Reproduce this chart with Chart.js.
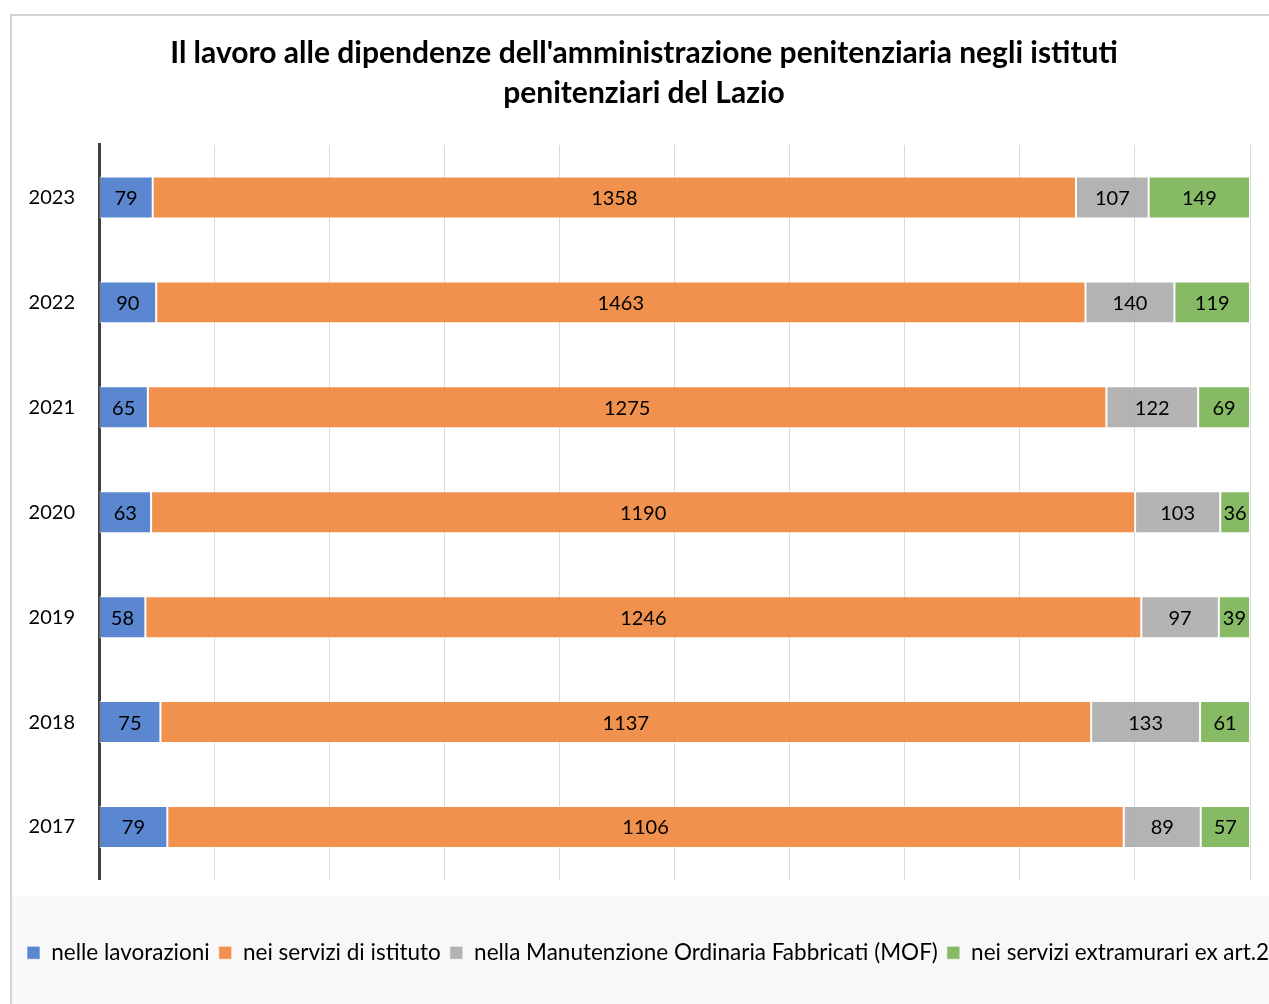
<!DOCTYPE html>
<html>
<head>
<meta charset="utf-8">
<script src="https://cdn.jsdelivr.net/npm/chart.js@4.4.1/dist/chart.umd.min.js"></script>
<style>
  html, body { margin: 0; padding: 0; background: #fff; overflow: hidden; }
  #wrap { position: absolute; left: 10px; top: 14px; width: 1290px; height: 990px;
          border-top: 2px solid #d4d4d4; border-left: 2px solid #d4d4d4; }
  canvas { display: block; }
</style>
</head>
<body>
<div id="wrap"><canvas id="c" width="1290" height="990"></canvas></div>
<script>
const years = ['2023', '2022', '2021', '2020', '2019', '2018', '2017'];
const lavorazioni = [79, 90, 65, 63, 58, 75, 79];
const serviziIstituto = [1358, 1463, 1275, 1190, 1246, 1137, 1106];
const mof = [107, 140, 122, 103, 97, 133, 89];
const extramurari = [149, 119, 69, 36, 39, 61, 57];
const seriesNames = ['nelle lavorazioni', 'nei servizi di istituto',
  'nella Manutenzione Ordinaria Fabbricati (MOF)', 'nei servizi extramurari ex art.21'];
const titleLines = ["Il lavoro alle dipendenze dell'amministrazione penitenziaria negli istituti",
  'penitenziari del Lazio'];

const raw = [lavorazioni, serviziIstituto, mof, extramurari];
const totals = years.map((_, i) => raw.reduce((s, arr) => s + arr[i], 0));
const pct = raw.map(arr => arr.map((v, i) => v / totals[i] * 100));

const fills = ['rgba(73,121,203,0.9)', 'rgba(238,133,59,0.9)', 'rgba(171,171,171,0.9)', 'rgba(121,178,84,0.9)'];
const legendFills = ['#5B86D0', '#F0914F', '#B3B3B3', '#86BA65'];
const FONT = 'Lato, "Open Sans", sans-serif';

const valueLabels = {
  id: 'valueLabels',
  afterDatasetsDraw(chart) {
    const ctx = chart.ctx;
    ctx.save();
    ctx.font = '20px ' + FONT;
    ctx.fillStyle = '#000';
    ctx.textAlign = 'center';
    ctx.textBaseline = 'middle';
    chart.data.datasets.forEach((ds, di) => {
      chart.getDatasetMeta(di).data.forEach((el, i) => {
        const cx = (el.x + el.base) / 2;
        ctx.fillText(String(raw[di][i]), cx, el.y + 1);
      });
    });
    ctx.restore();
  }
};

const legendBg = {
  id: 'legendBg',
  beforeDraw(chart) {
    const ctx = chart.ctx;
    ctx.save();
    ctx.fillStyle = '#f8f8f8';
    const top = chart.chartArea.bottom + 17;
    ctx.fillRect(0, top, chart.width, chart.height - top);
    ctx.restore();
  }
};

// the legend runs past the visible frame on one row, and the title is centred on the frame
const frameFix = {
  id: 'frameFix',
  afterInit(chart) {
    const L = chart.legend;
    if (L && !L._wide) {
      const orig = L.update;
      L.update = function (mw, mh, m) { return orig.call(this, mw + 120, mh, m); };
      L._wide = true;
    }
  },
  afterLayout(chart) {
    if (chart.titleBlock) { chart.titleBlock.right = 1264; chart.titleBlock.width = 1264 - chart.titleBlock.left; }
    if (chart.legend) {
      chart.legend.left += 6;
      chart.legend.right += 160;
      chart.legend.width = chart.legend.right - chart.legend.left;
    }
  }
};

new Chart(document.getElementById('c'), {
  type: 'bar',
  data: {
    labels: years,
    datasets: pct.map((d, i) => ({
      label: seriesNames[i],
      data: d,
      backgroundColor: fills[i],
      borderColor: 'rgba(255,255,255,0.7)',
      borderWidth: 1,
      borderSkipped: false,
      barPercentage: 0.4,
      categoryPercentage: 1.0
    }))
  },
  options: {
    indexAxis: 'y',
    responsive: false,
    animation: false,
    devicePixelRatio: 1,
    layout: { padding: { left: 0, right: 52, top: 0, bottom: 32 } },
    scales: {
      x: {
        stacked: true, min: 0, max: 100,
        ticks: { display: false, stepSize: 10 },
        border: { display: false },
        grid: { color: '#d9d9d9', lineWidth: 1, drawTicks: false },
        afterFit(scale) { scale.height = 53; }
      },
      y: {
        stacked: true,
        ticks: { color: '#000', font: { family: FONT, size: 20 }, padding: 24 },
        border: { display: true, color: '#404040', width: 3 },
        grid: { display: false, drawTicks: false },
        afterFit(scale) { scale.width = 87; }
      }
    },
    plugins: {
      title: {
        display: true,
        text: titleLines,
        color: '#000',
        font: { family: FONT, size: 30, weight: 'bold', lineHeight: 1.333 },
        padding: { top: 17, bottom: 32 }
      },
      legend: {
        position: 'bottom',
        align: 'start',
        labels: {
          color: '#000',
          font: { family: FONT, size: 22.5 },
          boxWidth: 13, boxHeight: 13,
          padding: 9,
          generateLabels(chart) {
            return seriesNames.map((n, i) => ({
              text: n, fillStyle: legendFills[i], strokeStyle: 'rgba(255,255,255,0.6)',
              lineWidth: 1, datasetIndex: i, hidden: false, fontColor: '#000'
            }));
          }
        }
      },
      tooltip: { enabled: false }
    }
  },
  plugins: [valueLabels, legendBg, frameFix]
});
</script>
</body>
</html>
